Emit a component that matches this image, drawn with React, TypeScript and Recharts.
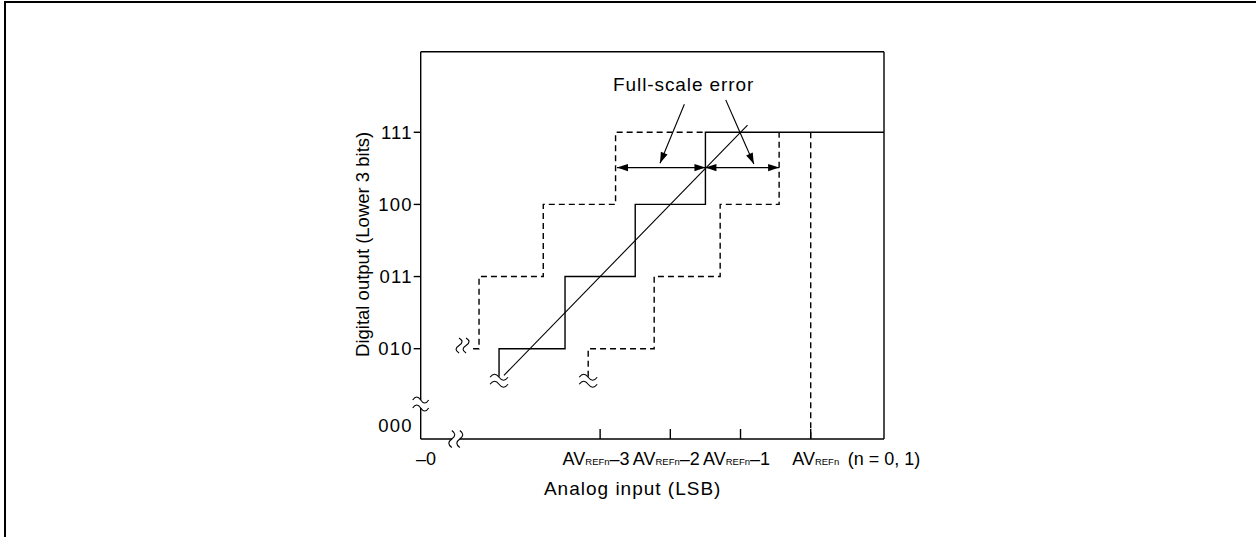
import React from "react";
import { ComposedChart, Line, Scatter, XAxis, YAxis, ReferenceLine, Label } from "recharts";

// axis ranges, in LSB steps (x) and code levels (y)
const X_MIN = 2.444;
const X_MAX = 9.044;
const Y_MIN = -0.252;
const Y_MAX = 5.117;

const yTickValues = [-0.07, 1, 2, 3, 4];
const yTickLabels = ["000", "010", "011", "100", "111"];

const xTickValues = [2.52, 5, 6, 7, 8];
const xTickLabels = ["–0", "AVREFn–3", "AVREFn–2", "AVREFn–1", "AVREFn"];
const xNote = "(n = 0, 1)";

// where the two axes are broken (gap edges)
const xAxisGap = [2.89, 3.0];
const yAxisGap = [0.178, 0.29];

const idealSteps = [
  { x: 3.56, y: 0.61 },
  { x: 3.56, y: 1 },
  { x: 4.5, y: 2 },
  { x: 5.5, y: 3 },
  { x: 6.5, y: 4 },
  { x: X_MAX, y: 4 },
];

const leftDashed = [
  { x: 3.19, y: 1 },
  { x: 3.275, y: 2 },
  { x: 4.19, y: 3 },
  { x: 5.22, y: 4 },
  { x: 6.5, y: 4 },
];

const rightDashed = [
  { x: 4.83, y: 0.61 },
  { x: 4.83, y: 1 },
  { x: 5.77, y: 2 },
  { x: 6.71, y: 3 },
  { x: 7.55, y: 4 },
];

const avrefLine = [
  { x: 8, y: 4 },
  { x: 8, y: Y_MIN },
];

const idealLine = [
  { x: 3.63, y: 0.63 },
  { x: 7.1, y: 4.1 },
];

const errArrowLeft = [
  { x: 5.24, y: 3.51, head: true },
  { x: 6.5, y: 3.51, head: true },
];
const errArrowRight = [
  { x: 6.5, y: 3.51, head: true },
  { x: 7.55, y: 3.51, head: true },
];
const pointer1 = [
  { x: 6.2, y: 4.388, head: false },
  { x: 5.853, y: 3.57, head: true },
];
const pointer2 = [
  { x: 6.79, y: 4.448, head: false },
  { x: 7.19, y: 3.56, head: true },
];

const breaks = [
  { x: X_MIN, y: 0.233, kind: "axisY" },
  { x: 2.944, y: Y_MIN, kind: "axisX" },
  { x: 3.04, y: 1.044, kind: "vert" },
  { x: 3.56, y: 0.556, kind: "horiz" },
  { x: 4.83, y: 0.556, kind: "horiz" },
];

const notes = [{ x: 6.19, y: 4.57, text: "Full-scale error" }];

const FONT = "'Liberation Sans', Arial, Helvetica, sans-serif";
const SW = 1.4;

const ArrowDot = (props: any) => {
  const { cx, cy, index, points, payload } = props;
  if (!payload || !payload.head || !points) return <g key={`d-${index}`} />;
  const other = points[index === 0 ? 1 : index - 1];
  const dx = cx - other.x;
  const dy = cy - other.y;
  const len = Math.hypot(dx, dy) || 1;
  const ux = dx / len;
  const uy = dy / len;
  const L = 11;
  const W = 3.6;
  const bx = cx - ux * L;
  const by = cy - uy * L;
  return (
    <polygon
      key={`d-${index}`}
      points={`${cx},${cy} ${bx - uy * W},${by + ux * W} ${bx + uy * W},${by - ux * W}`}
      fill="#000"
    />
  );
};

// one wave: Q/T peak is half the control offset, so a = 2 x amplitude
const tilde = (x0: number, y0: number, w: number, a: number) =>
  `M ${x0 - w} ${y0} Q ${x0 - w / 2} ${y0 - a} ${x0} ${y0} T ${x0 + w} ${y0}`;
const vtilde = (x0: number, y0: number, h: number, a: number) =>
  `M ${x0} ${y0 - h} Q ${x0 + a} ${y0 - h / 2} ${x0} ${y0} T ${x0} ${y0 + h}`;

const BreakShape = (props: any) => {
  const { cx, cy, payload } = props;
  const st = { stroke: "#000", strokeWidth: 1.1, fill: "none" };
  if (payload.kind === "axisY") {
    return (
      <g>
        <path d={tilde(cx, cy - 4, 8, 6)} {...st} />
        <path d={tilde(cx, cy + 4, 8, 6)} {...st} />
      </g>
    );
  }
  if (payload.kind === "axisX") {
    return (
      <g>
        <path d={vtilde(cx - 4, cy, 8.5, 6)} {...st} />
        <path d={vtilde(cx + 4, cy, 8.5, 6)} {...st} />
      </g>
    );
  }
  if (payload.kind === "vert") {
    return (
      <g>
        <path d={vtilde(cx - 3.5, cy, 7.5, 6)} {...st} />
        <path d={vtilde(cx + 3.5, cy, 7.5, 6)} {...st} />
      </g>
    );
  }
  return (
    <g>
      <path d={tilde(cx, cy - 3.5, 9, 6)} {...st} />
      <path d={tilde(cx, cy + 3.5, 9, 6)} {...st} />
    </g>
  );
};

const NoteShape = (props: any) => {
  const { cx, cy, payload } = props;
  return (
    <text x={cx} y={cy} textAnchor="middle" fontSize={19} letterSpacing={0.9} fontFamily={FONT} fill="#000">
      {payload.text}
    </text>
  );
};

const XTick = (props: any) => {
  const { x, y, payload } = props;
  const i = xTickValues.indexOf(payload.value);
  const label = xTickLabels[i] ?? "";
  const hasAV = label.startsWith("AVREFn");
  const suffix = hasAV ? label.slice(6) : label;
  const dx = hasAV ? (suffix ? -4 : 5) : 0;
  return (
    <g>
      {hasAV && <line x1={x} x2={x} y1={y} y2={y - 10} stroke="#000" strokeWidth={SW} />}
      <text x={x + dx} y={y + 26} textAnchor="middle" fontSize={18} fontFamily={FONT} fill="#000">
        {hasAV && <tspan>AV</tspan>}
        {hasAV && <tspan fontSize={9.5}>REFn</tspan>}
        {suffix && <tspan>{suffix}</tspan>}
      </text>
      {hasAV && !suffix && (
        <text x={x + 37} y={y + 26} fontSize={18} fontFamily={FONT} fill="#000">
          {xNote}
        </text>
      )}
    </g>
  );
};

const YTick = (props: any) => {
  const { x, y, payload } = props;
  const i = yTickValues.indexOf(payload.value);
  const label = yTickLabels[i] ?? "";
  return (
    <g>
      {label !== "000" && <line x1={x - 7} x2={x} y1={y} y2={y} stroke="#000" strokeWidth={SW} />}
      <text x={x - 8} y={y + 6.5} textAnchor="end" fontSize={18.5} letterSpacing={1.2} fontFamily={FONT} fill="#000">
        {label}
      </text>
    </g>
  );
};

const lineCommon = {
  dataKey: "y",
  stroke: "#000",
  strokeWidth: SW,
  dot: false,
  activeDot: false,
  isAnimationActive: false,
  legendType: "none" as const,
};

export default function App() {
  return (
    <div style={{ position: "absolute", left: 0, top: 0, width: 1256, height: 537, background: "#fff" }}>
      <div style={{ position: "absolute", left: 4, top: 1, right: 0, bottom: 0, borderLeft: "2.6px solid #000", borderTop: "2.4px solid #000" }} />
      <div style={{ position: "absolute", left: 0, top: 0 }}>
        <ComposedChart width={1256} height={537} margin={{ top: 51.7, right: 372, left: 360.7, bottom: 38 }}>
          <XAxis
            dataKey="x"
            type="number"
            domain={[X_MIN, X_MAX]}
            ticks={xTickValues}
            interval={0}
            tick={<XTick />}
            tickLine={false}
            tickSize={0}
            tickMargin={0}
            height={60}
            axisLine={false}
          >
            <Label
              content={(p: any) => (
                <text x={p.viewBox.x + 212} y={p.viewBox.y + 56} textAnchor="middle" fontSize={19} letterSpacing={1} fontFamily={FONT} fill="#000">
                  Analog input (LSB)
                </text>
              )}
            />
          </XAxis>
          <YAxis
            type="number"
            domain={[Y_MIN, Y_MAX]}
            ticks={yTickValues}
            interval={0}
            tick={<YTick />}
            tickLine={false}
            tickSize={0}
            tickMargin={0}
            width={60}
            axisLine={false}
          >
            <Label
              content={(p: any) => {
                const cx = p.viewBox.x + 8.8;
                const cy = p.viewBox.y + p.viewBox.height / 2 - 1;
                return (
                  <text x={cx} y={cy} transform={`rotate(-90, ${cx}, ${cy})`} textAnchor="middle" fontSize={18.5} fontFamily={FONT} fill="#000">
                    Digital output (Lower 3 bits)
                  </text>
                );
              }}
            />
          </YAxis>
          {/* frame, with the axis breaks left open */}
          <ReferenceLine y={Y_MAX} stroke="#000" strokeWidth={SW} />
          <ReferenceLine x={X_MAX} stroke="#000" strokeWidth={SW} />
          <ReferenceLine segment={[{ x: X_MIN, y: Y_MIN }, { x: xAxisGap[0], y: Y_MIN }]} stroke="#000" strokeWidth={SW} />
          <ReferenceLine segment={[{ x: xAxisGap[1], y: Y_MIN }, { x: X_MAX, y: Y_MIN }]} stroke="#000" strokeWidth={SW} />
          <ReferenceLine segment={[{ x: X_MIN, y: Y_MIN }, { x: X_MIN, y: yAxisGap[0] }]} stroke="#000" strokeWidth={SW} />
          <ReferenceLine segment={[{ x: X_MIN, y: yAxisGap[1] }, { x: X_MIN, y: Y_MAX }]} stroke="#000" strokeWidth={SW} />

          <Line {...lineCommon} data={leftDashed} type="stepAfter" strokeDasharray="6 4" />
          <Line {...lineCommon} data={rightDashed} type="stepAfter" strokeDasharray="6 4" />
          <Line {...lineCommon} data={avrefLine} type="linear" strokeDasharray="6 4" />
          <Line {...lineCommon} data={idealSteps} type="stepAfter" />
          <Line {...lineCommon} data={idealLine} type="linear" strokeWidth={1.1} />

          <Line {...lineCommon} data={errArrowLeft} type="linear" dot={<ArrowDot />} />
          <Line {...lineCommon} data={errArrowRight} type="linear" dot={<ArrowDot />} />
          <Line {...lineCommon} data={pointer1} type="linear" strokeWidth={1.1} dot={<ArrowDot />} />
          <Line {...lineCommon} data={pointer2} type="linear" strokeWidth={1.1} dot={<ArrowDot />} />

          <Scatter data={breaks} dataKey="y" shape={(p: any) => <BreakShape {...p} />} isAnimationActive={false} legendType="none" />
          <Scatter data={notes} dataKey="y" shape={(p: any) => <NoteShape {...p} />} isAnimationActive={false} legendType="none" />
        </ComposedChart>
      </div>
    </div>
  );
}
